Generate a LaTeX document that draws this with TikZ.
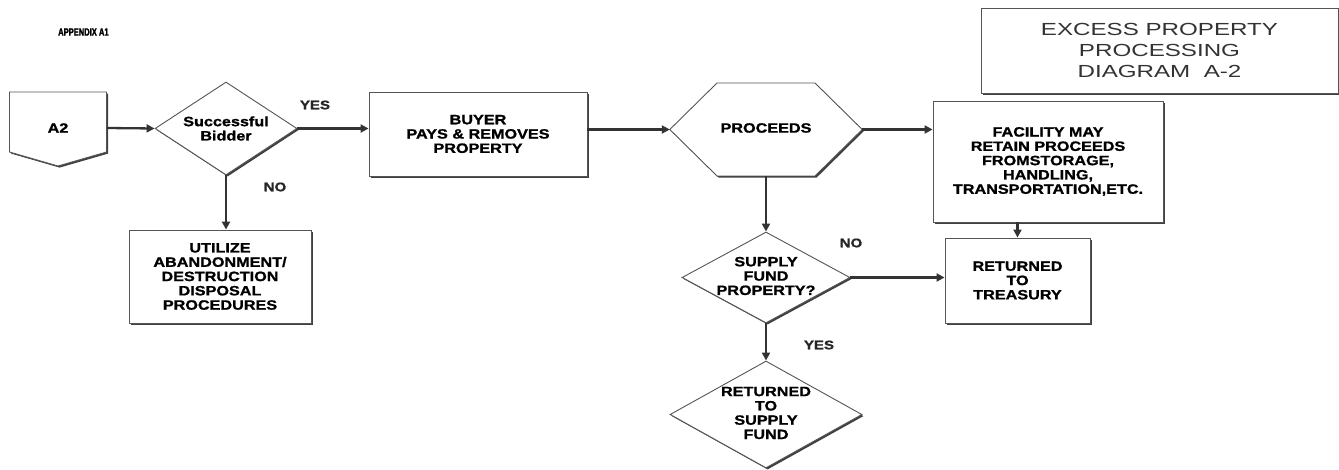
\documentclass[tikz,border=0pt]{standalone}
\usepackage{fontspec}
\usepackage{graphicx}
\usetikzlibrary{shapes.geometric,arrows.meta,shadows}
\newfontfamily\boxfont[FakeStretch=1.2,BoldFeatures={FakeBold=1.2}]{Liberation Sans}
\newfontfamily\titlefont[FakeStretch=1.38]{Liberation Sans}
\newfontfamily\appfont[FakeStretch=0.72,BoldFeatures={FakeBold=2}]{Liberation Sans}
\definecolor{edge}{HTML}{555555}
\definecolor{conncol}{HTML}{333333}
\tikzset{
  shad/.style={drop shadow={shadow xshift=1.6pt,shadow yshift=-1.6pt,fill=black!75,opacity=1}},
  boxnode/.style={draw=edge,line width=0.9pt,fill=white,shad,inner sep=0,align=center,
     font=\boxfont\bfseries\fontsize{13.5pt}{14.3pt}\selectfont},
  dianode/.style={shape=diamond,draw=edge,line width=0.9pt,fill=white,shad,inner sep=0},
  txt/.style={align=center,inner sep=0,font=\boxfont\bfseries\fontsize{13.5pt}{14.3pt}\selectfont},
  lbl/.style={inner sep=0,font=\boxfont\bfseries\fontsize{12.5pt}{14pt}\selectfont,text=black!85},
  conn/.style={draw=conncol,line width=2.3pt,-{Triangle[length=8pt,width=8pt]}},
}
\begin{document}
\begin{tikzpicture}[x=1pt,y=-1pt]
\useasboundingbox[fill=white] (0,0) rectangle (1339,470);

% appendix label
\node[anchor=west,inner sep=0,font=\appfont\bfseries\fontsize{10.5pt}{11pt}\selectfont] (app) at (58,32) {APPENDIX A1};

% title box
\node[draw=edge,line width=0.9pt,fill=white,shad,minimum width=357pt,minimum height=85pt,inner sep=0,
  align=center,text=black!80,font=\titlefont\fontsize{17.5pt}{21pt}\selectfont] (title) at (1159.5,50.5)
  {EXCESS PROPERTY\\PROCESSING\\DIAGRAM\ \ A-2};

% A2 off-page connector
\draw[draw=edge,line width=0.9pt,fill=white,shad] (9.5,92) -- (106.5,92) -- (106.5,152) -- (58,166) -- (9.5,152) -- cycle;
\node[txt,minimum width=97pt,minimum height=72pt] (a2) at (58,128) {A2};

% successful bidder
\node[dianode,minimum width=142pt,minimum height=93pt] (sb) at (226,128.5) {};
\node[txt] (sbt) at (sb.center) {Successful\\Bidder};

% buyer
\node[boxnode,minimum width=218pt,minimum height=84pt] (buyer) at (478,134) {BUYER\\PAYS \& REMOVES\\PROPERTY};

% proceeds hexagon
\node[txt,minimum width=192pt,minimum height=93pt] (hex) at (766,129.5) {};
\draw[draw=edge,line width=0.9pt,fill=white,shad] (hex.west) -- (717,83) -- (815,83) -- (hex.east) -- (815,176) -- (717,176) -- cycle;
\node[txt] (hext) at (766,128) {PROCEEDS};

% facility
\node[boxnode,minimum width=230pt,minimum height=121pt] (fac) at (1048,161.5)
  {FACILITY MAY\\RETAIN PROCEEDS\\FROMSTORAGE,\\HANDLING,\\TRANSPORTATION,ETC.};

% treasury
\node[boxnode,minimum width=145pt,minimum height=85pt] (tr) at (1017.5,280.5)
  {RETURNED\\TO\\TREASURY};

% utilize
\node[boxnode,minimum width=182pt,minimum height=93pt] (ut) at (220,276.5)
  {UTILIZE\\ABANDONMENT/\\DESTRUCTION\\DISPOSAL\\PROCEDURES};

% supply fund property diamond
\node[dianode,minimum width=168pt,minimum height=91pt] (sfp) at (766,277.5) {};
\node[txt] (sfpt) at (766,276) {SUPPLY\\FUND\\PROPERTY?};

% returned to supply fund diamond
\node[dianode,minimum width=192pt,minimum height=107pt] (rsf) at (766,414.5) {};
\node[txt] (rsft) at (766,413) {RETURNED\\TO\\SUPPLY\\FUND};

% labels
\node[lbl] (yes1) at (315,105) {YES};
\node[lbl] (no1) at (275,187) {NO};
\node[lbl] (no2) at (851,243) {NO};
\node[lbl] (yes2) at (819,345) {YES};

% connectors
\draw[conn] (a2.east) -- (sb.west);
\draw[conn] (sb.east) -- (sb.east -| buyer.west);
\draw[conn] (sb.south) -- (sb.south |- ut.north);
\draw[conn] (buyer.east |- hex.west) -- (hex.west);
\draw[conn] (hex.east) -- (hex.east -| fac.west);
\draw[conn] (hex.south) -- (sfp.north);
\draw[conn] (fac.south -| tr.north) -- (tr.north);
\draw[conn] (sfp.east) -- (sfp.east -| tr.west);
\draw[conn] (sfp.south) -- (rsf.north);
\end{tikzpicture}
\end{document}
